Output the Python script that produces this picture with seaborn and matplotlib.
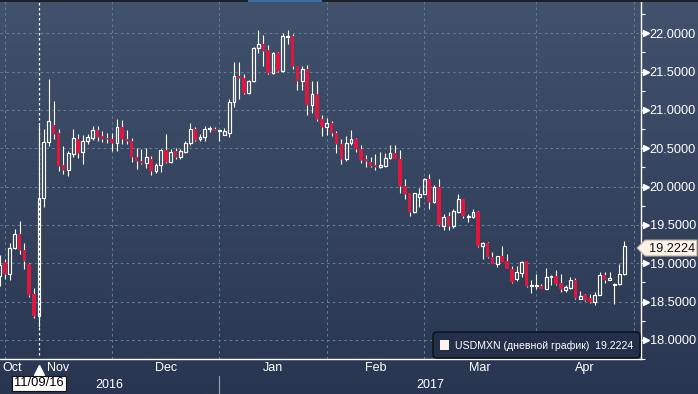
import numpy as np
import pandas as pd
import matplotlib
matplotlib.use("Agg")
import matplotlib.pyplot as plt
import seaborn as sns
from matplotlib.transforms import blended_transform_factory, IdentityTransform
from matplotlib.patches import FancyBboxPatch, Rectangle, Polygon
from matplotlib.lines import Line2D

# ---------------- data (daily USDMXN candles, Oct 28 2016 .. Apr 26 2017) ----------------
opens = [18.838, 19.02, 18.864, 19.20, 19.375, 19.175, 18.994, 18.595, 18.31, 19.85,
         20.58, 20.80, 20.70, 20.28, 20.21, 20.43, 20.623, 20.455, 20.593, 20.632,
         20.745, 20.658, 20.63, 20.623, 20.571, 20.78, 20.623, 20.597, 20.385, 20.337,
         20.303, 20.364, 20.203, 20.28, 20.472, 20.32, 20.459, 20.39, 20.45, 20.563,
         20.758, 20.623, 20.645, 20.752, 20.753, 20.73, 20.675, 20.70, 21.106, 21.446,
         21.42, 21.225, 21.372, 21.805, 21.86, 21.784, 21.48, 21.74, 21.502, 21.957,
         21.965, 21.58, 21.381, 21.532, 21.06, 21.212, 20.883, 20.78, 20.831, 20.70,
         20.558, 20.355, 20.563, 20.623, 20.485, 20.355, 20.325, 20.28, 20.26, 20.268,
         20.372, 20.433, 20.364, 20.009, 19.913, 19.662, 19.87, 19.909, 20.104, 19.80,
         20.0, 19.49, 19.61, 19.49, 19.662, 19.835, 19.597, 19.597, 19.67, 19.22,
         19.26, 19.078, 18.99, 19.09, 19.026, 18.926, 18.797, 18.874, 19.026, 18.70,
         18.70, 18.70, 18.658, 18.818, 18.83, 18.745, 18.645, 18.675, 18.784, 18.537,
         18.58, 18.545, 18.494, 18.589, 18.84, 18.784, 18.71, 18.723, 18.861]
highs = [19.106, 19.06, 19.266, 19.44, 19.556, 19.27, 19.00, 18.673, 20.80, 20.75,
         21.40, 21.116, 20.75, 20.53, 20.46, 20.75, 20.68, 20.667, 20.68, 20.797,
         20.79, 20.72, 20.70, 20.70, 20.887, 20.866, 20.745, 20.636, 20.498, 20.493,
         20.498, 20.398, 20.31, 20.493, 20.688, 20.485, 20.506, 20.49, 20.597, 20.83,
         20.775, 20.68, 20.788, 20.79, 20.775, 20.745, 20.766, 21.14, 21.63, 21.62,
         21.472, 21.394, 21.827, 22.043, 21.978, 21.848, 21.762, 21.75, 22.009, 22.043,
         21.99, 21.58, 21.58, 21.59, 21.372, 21.38, 20.94, 20.90, 20.857, 20.72,
         20.615, 20.658, 20.745, 20.636, 20.537, 20.407, 20.39, 20.42, 20.455, 20.44,
         20.545, 20.537, 20.476, 20.095, 19.922, 19.922, 19.987, 20.117, 20.165, 20.026,
         20.095, 19.64, 19.662, 19.706, 19.90, 19.844, 19.64, 19.714, 19.68, 19.273,
         19.273, 19.15, 19.10, 19.23, 19.117, 18.97, 18.97, 19.035, 19.026, 18.775,
         18.861, 18.73, 18.935, 18.84, 18.905, 18.861, 18.719, 18.818, 18.805, 18.632,
         18.602, 18.602, 18.623, 18.883, 18.883, 18.883, 18.745, 18.99, 19.294]
lows = [18.70, 18.795, 18.78, 19.18, 19.115, 18.93, 18.56, 18.29, 18.17, 19.73,
        20.53, 20.62, 20.205, 20.17, 20.14, 20.38, 20.377, 20.294, 20.56, 20.606,
        20.593, 20.58, 20.57, 20.46, 20.463, 20.554, 20.554, 20.32, 20.225, 20.30,
        20.247, 20.15, 20.18, 20.19, 20.312, 20.303, 20.364, 20.364, 20.433, 20.545,
        20.597, 20.597, 20.597, 20.71, 20.72, 20.593, 20.667, 20.65, 21.04, 21.143,
        21.203, 21.212, 21.36, 21.749, 21.58, 21.472, 21.472, 21.49, 21.49, 21.857,
        21.54, 21.264, 21.264, 20.94, 20.96, 20.853, 20.658, 20.67, 20.658, 20.442,
        20.294, 20.333, 20.545, 20.45, 20.303, 20.26, 20.26, 20.216, 20.247, 20.26,
        20.364, 20.355, 19.922, 19.835, 19.619, 19.649, 19.74, 19.90, 19.714, 19.784,
        19.49, 19.437, 19.437, 19.455, 19.654, 19.584, 19.54, 19.584, 19.208, 19.05,
        19.065, 18.99, 18.948, 19.013, 18.918, 18.745, 18.762, 18.818, 18.688, 18.615,
        18.667, 18.658, 18.658, 18.71, 18.71, 18.624, 18.624, 18.667, 18.537, 18.528,
        18.502, 18.485, 18.459, 18.58, 18.745, 18.775, 18.472, 18.71, 18.848]
closes = [18.976, 18.855, 19.20, 19.375, 19.167, 19.028, 18.587, 18.31, 19.85, 20.58,
          20.856, 20.69, 20.266, 20.21, 20.435, 20.64, 20.433, 20.60, 20.645, 20.745,
          20.645, 20.623, 20.615, 20.571, 20.78, 20.615, 20.59, 20.385, 20.333, 20.307,
          20.39, 20.203, 20.28, 20.472, 20.32, 20.455, 20.39, 20.459, 20.563, 20.758,
          20.606, 20.645, 20.758, 20.76, 20.727, 20.736, 20.723, 21.106, 21.446, 21.411,
          21.216, 21.38, 21.805, 21.86, 21.775, 21.48, 21.74, 21.502, 21.965, 21.965,
          21.58, 21.381, 21.532, 21.06, 21.212, 20.883, 20.78, 20.831, 20.70, 20.558,
          20.364, 20.563, 20.623, 20.485, 20.346, 20.333, 20.268, 20.26, 20.277, 20.377,
          20.433, 20.364, 20.009, 19.90, 19.662, 19.913, 19.909, 20.104, 19.80, 20.0,
          19.498, 19.60, 19.48, 19.675, 19.835, 19.61, 19.619, 19.662, 19.22, 19.26,
          19.078, 18.99, 19.09, 19.013, 18.918, 18.753, 18.883, 19.022, 18.70, 18.719,
          18.719, 18.658, 18.818, 18.83, 18.732, 18.658, 18.688, 18.784, 18.545, 18.571,
          18.515, 18.494, 18.589, 18.84, 18.775, 18.805, 18.732, 18.861, 19.2224]

month_labels = ["Oct", "Nov", "Dec", "Jan", "Feb", "Mar", "Apr"]
month_label_pos = [2.4, 12, 34, 56, 77, 98.5, 120]
month_end_idx = [1, 23, 45, 67, 87, 110, 130]
year_labels = ["2016", "2017"]
year_label_pos = [22.5, 88.2]
year_break_idx = 45
y_ticks = [18.0, 18.5, 19.0, 19.5, 20.0, 20.5, 21.0, 21.5, 22.0]
y_minor = [17.75, 18.25, 18.75, 19.25, 19.75, 20.25, 20.75, 21.25, 21.75, 22.25]
last_price = 19.2224
event_idx = 8
event_label = "11/09/16"
legend_label = "USDMXN (дневной график)"

# ---------------- style ----------------
sns.set_theme(style="dark")
plt.rcParams["font.family"] = ["Liberation Sans", "DejaVu Sans"]

W, H = 698, 394
fig = plt.figure(figsize=(W / 100, H / 100), dpi=100)
fig.patch.set_facecolor("#2b3853")

# gradient background
bg = fig.add_axes([0, 0, 1, 1], zorder=0)
top = np.array([0x42, 0x52, 0x6c]) / 255
bot = np.array([0x29, 0x36, 0x51]) / 255
t = np.linspace(0, 1, 256)[:, None]
grad = top * (1 - t) + bot * t
bg.imshow(grad[:, None, :], aspect="auto", extent=[0, 1, 0, 1], origin="upper")
bg.set_axis_off()

ax = fig.add_axes([0, 35 / H, 641 / W, 359 / H], zorder=1)
ax.patch.set_alpha(0)

df = pd.DataFrame({"o": opens, "h": highs, "l": lows, "c": closes})
df["x"] = np.arange(len(df))
df["up"] = df["c"] >= df["o"]
df["bh"] = df[["o", "c"]].max(axis=1)
df["bl"] = df[["o", "c"]].min(axis=1)

RED = "#e0163d"
# wicks
ax.vlines(df["x"], df["bh"], df["h"], color="white", lw=0.8, zorder=3)
ax.vlines(df["x"], df["l"], df["bl"], color="white", lw=0.8, zorder=3)
up = df[df["up"]]
dn = df[~df["up"]]
ax.bar(up["x"], np.maximum(up["bh"] - up["bl"], 0.006), bottom=up["bl"], width=0.58,
       facecolor="none", edgecolor="white", lw=0.85, zorder=4)
ax.bar(dn["x"], np.maximum(dn["bh"] - dn["bl"], 0.012), bottom=dn["bl"], width=0.74,
       color=RED, edgecolor="none", lw=0, zorder=4)

ax.set_xlim(0, 131.46)
ax.set_ylim(17.773, 22.435)

# grid
ax.set_yticks(y_ticks)
ax.set_yticks(y_minor, minor=True)
ax.set_xticks(month_end_idx)
ax.set_xticklabels([""] * len(month_end_idx))
ax.set_xticks(month_label_pos, minor=True)
ax.set_xticklabels(month_labels, minor=True)
ax.grid(True, which="major", color="#5f7f98", ls=(0, (2.5, 3)), lw=0.75)
ax.grid(False, which="minor")

ax.yaxis.tick_right()
ax.set_yticklabels([f"{v:.4f}" for v in y_ticks])
ax.tick_params(axis="y", which="major", direction="out", length=5, width=0.8,
               color="white", labelcolor="white", labelsize=9.2, pad=1.2)
ax.tick_params(axis="y", which="minor", direction="out", length=3, width=0.8, color="white")
ax.tick_params(axis="x", which="major", direction="out", length=3.6, width=0.8, color="white")
ax.tick_params(axis="x", which="minor", length=0, labelcolor="white", labelsize=9, pad=2.2)
for s in ["top", "left"]:
    ax.spines[s].set_visible(False)
for s in ["right", "bottom"]:
    ax.spines[s].set_visible(True)
    ax.spines[s].set_color("white")
    ax.spines[s].set_linewidth(1.0)

# arrow heads on major y ticks
tr_y = blended_transform_factory(ax.transAxes, ax.transData)
ax.plot([1.0085] * len(y_ticks), y_ticks, ls="none", marker=">", ms=4, color="white",
        transform=tr_y, clip_on=False, zorder=5)

# event (election day) cursor
ax.axvline(event_idx, ymin=0.011, ymax=1, color="white", ls=(0, (2, 2)), lw=0.9, zorder=5)
tr_xf = blended_transform_factory(ax.transData, fig.transFigure)
ax.plot([event_idx], [1 - 369.5 / H], marker="^", ms=6.5, color="white", transform=tr_xf,
        clip_on=False, zorder=6)
ax.text(event_idx, 1 - 383.5 / H, event_label, transform=tr_xf, ha="center", va="center",
        fontsize=9.3, color="black", zorder=7,
        bbox=dict(boxstyle="square,pad=0.15", fc="white", ec="#111111", lw=0.8))

# year row
for lab, pos in zip(year_labels, year_label_pos):
    ax.text(pos, 1 - 385 / H, lab, transform=tr_xf, ha="center", va="center",
            fontsize=9, color="white")
fig.add_artist(Line2D([year_break_idx, year_break_idx], [0, 18 / H], transform=tr_xf,
                      color="#9aa6b8", lw=0.8))

# legend box (pixel coordinates)
ident = IdentityTransform()
leg = FancyBboxPatch((433, H - 358), 207, 26, boxstyle="round,pad=0,rounding_size=4",
                     fc="#243049", ec="#0b0f16", lw=1.0, transform=ident, zorder=8)
fig.add_artist(leg)
fig.add_artist(Rectangle((440, H - 350), 9, 10, fc="#fdf2ee", ec="none",
                         transform=ident, zorder=9))
fig.text(455 / W, 1 - 345.5 / H, f"{legend_label}  {last_price:.4f}", color="white",
         fontsize=7.6, va="center", ha="left", zorder=9)

# last price tag
yl = 248
tag = Polygon([(637, H - yl), (645, H - 240), (697, H - 240), (697, H - 256), (645, H - 256)],
              closed=True, fc="#fdf3e8", ec="#b8a894", lw=0.8, transform=ident, zorder=8)
fig.add_artist(tag)
fig.text(672 / W, 1 - 248.5 / H, f"{last_price:.4f}", color="#111111", fontsize=9.2,
         ha="center", va="center", zorder=9)

# top strip
fig.add_artist(Rectangle((0, H - 2), W, 2, fc="#1d2129", ec="none", transform=ident, zorder=9))
fig.add_artist(Rectangle((248, H - 2), 74, 2, fc="#3a6ea8", ec="none", transform=ident, zorder=10))

fig.savefig("out.png", dpi=100)
